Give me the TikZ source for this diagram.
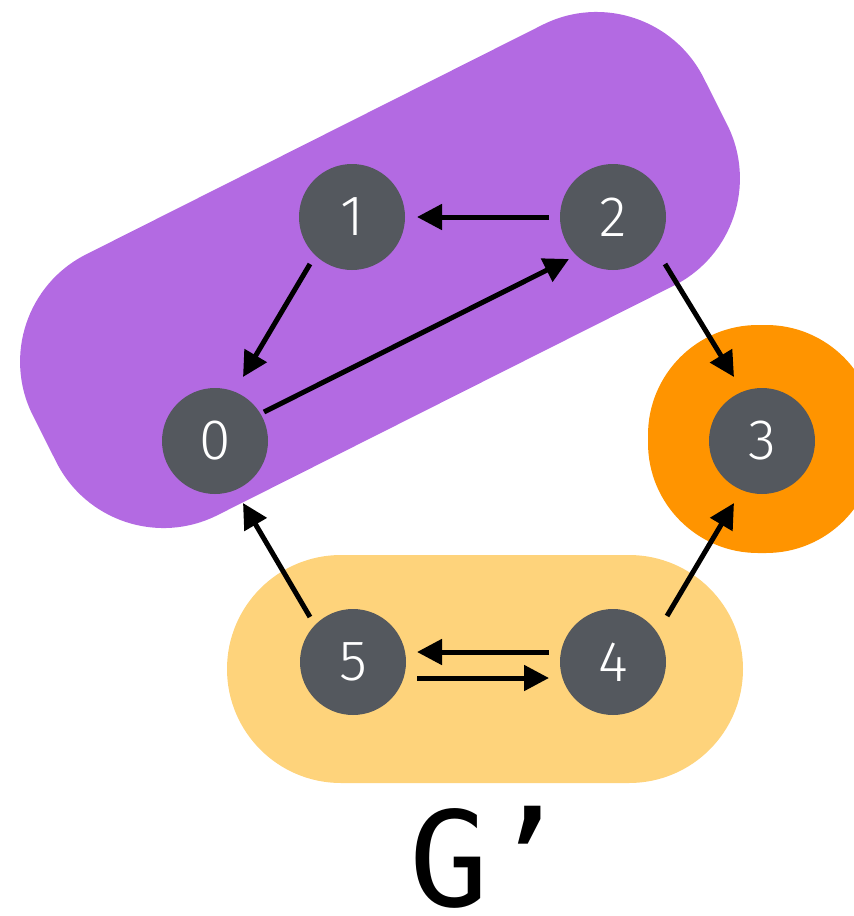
\documentclass[tikz,border=0pt]{standalone}
\usepackage{fontspec}
\usetikzlibrary{arrows.meta}
\newfontfamily\numfont{Fira Sans Light}
\newfontfamily\titlefont{DejaVu Sans Mono}
\definecolor{sccpurple}{HTML}{B36AE2}
\definecolor{sccorange}{HTML}{FF9400}
\definecolor{sccyellow}{HTML}{FED37B}
\definecolor{vertexgray}{HTML}{54585E}
\tikzset{
  vertex/.style={circle, fill=vertexgray, minimum size=106pt, inner sep=0pt, outer sep=0pt,
    text=white, font=\numfont\fontsize{57}{57}\selectfont},
  edgearrow/.style={line width=5pt, -{Triangle[length=25pt,width=25pt]}},
  blob/.style={inner sep=0pt, outer sep=0pt}
}
\begin{document}
\begin{tikzpicture}[x=1pt,y=-1pt]
  \useasboundingbox (0,0) rectangle (854,916);
  \clip (0,0) rectangle (854,916);
  % component backgrounds
  \node[blob, fill=sccpurple, rectangle, rounded corners=120pt, minimum width=751pt,
        minimum height=292pt, rotate=26.7] (cpurple) at (380,270) {};
  \node[blob, fill=sccorange, rectangle, rounded corners=110pt, minimum width=228pt,
        minimum height=228pt] (corange) at (762,439) {};
  \node[blob, fill=sccyellow, rectangle, rounded corners=114pt, minimum width=516pt,
        minimum height=228pt] (cyellow) at (485,669) {};
  % vertices
  \node[vertex] (n0) at (215,441) {0};
  \node[vertex] (n1) at (352,217) {1};
  \node[vertex] (n2) at (613,217) {2};
  \node[vertex] (n3) at (762,441) {3};
  \node[vertex] (n4) at (613,662) {4};
  \node[vertex] (n5) at (353,662) {5};
  % edges
  \draw[edgearrow] ([shift={(-64,0)}]n2.center) -- ([shift={(65,0)}]n1.center);
  \draw[edgearrow] ([shift={(-42,47)}]n1.center) -- ([shift={(28,-64)}]n0.center);
  \draw[edgearrow] ([shift={(49,-29)}]n0.center) -- ([shift={(-44,42)}]n2.center);
  \draw[edgearrow] ([shift={(52,47)}]n2.center) -- ([shift={(-28,-64)}]n3.center);
  \draw[edgearrow] ([shift={(-43,-45)}]n5.center) -- ([shift={(28,62)}]n0.center);
  \draw[edgearrow] ([shift={(54,-46)}]n4.center) -- ([shift={(-28,62)}]n3.center);
  \draw[edgearrow] ([shift={(-64,-10)}]n4.center) -- ([shift={(64,-10)}]n5.center);
  \draw[edgearrow] ([shift={(64,16)}]n5.center) -- ([shift={(-64,16)}]n4.center);
  % graph name
  \node[anchor=base west, inner sep=0pt, font=\titlefont\fontsize{132}{132}\selectfont] (gname)
    at (409,906) {G’};
\end{tikzpicture}
\end{document}
